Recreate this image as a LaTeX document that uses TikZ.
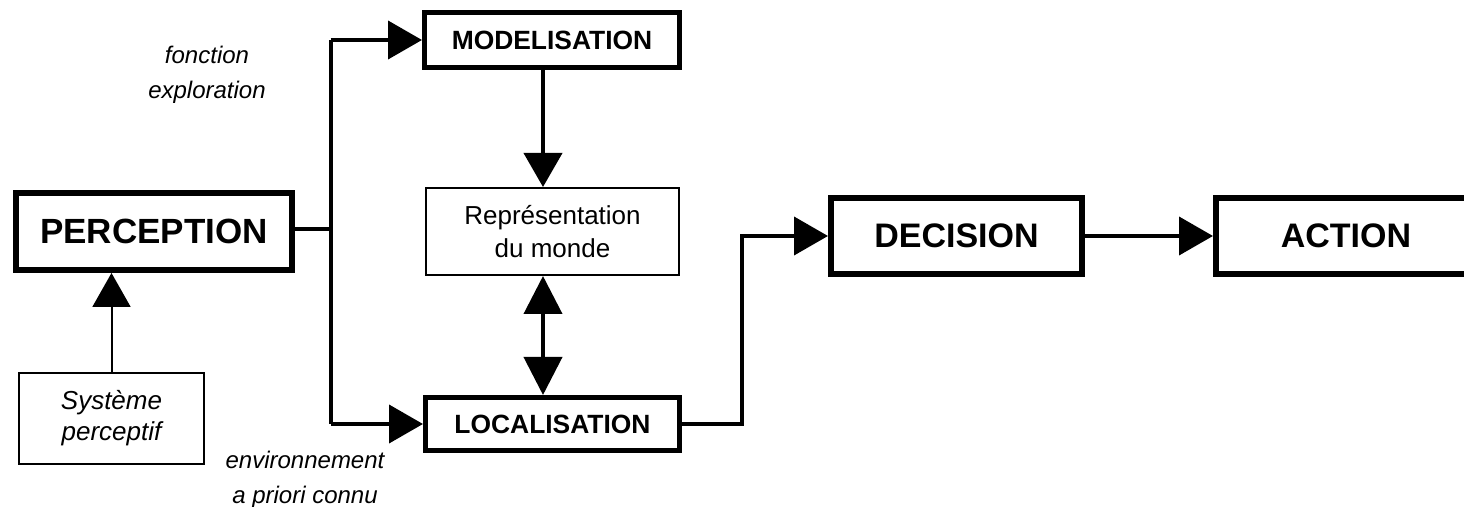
\documentclass[tikz,border=0pt]{standalone}
\usepackage{fontspec}
\setmainfont{Liberation Sans}
\usetikzlibrary{arrows.meta}
\tikzset{
  bigbox/.style={draw, line width=3pt, inner sep=0pt, font=\bfseries},
  thinbox/.style={draw, line width=1pt, inner sep=0pt, align=center},
  conn/.style={line width=2pt},
  tip/.style={-{Triangle[length=17pt,width=19pt]}},
  lbl/.style={font=\itshape\fontsize{12}{17.5}\selectfont, align=center, inner sep=0pt}
}
\begin{document}
\begin{tikzpicture}[x=0.5pt,y=-0.5pt]
\useasboundingbox (0,0) rectangle (1464,507);
\clip (0,0) rectangle (1464,507);
\node[bigbox, minimum width=138pt, minimum height=38.5pt, line width=3pt,
      font=\bfseries\fontsize{17.5}{20}\selectfont] (perc) at (154,231.5) {PERCEPTION};
\node[thinbox, minimum width=92.5pt, minimum height=45.5pt,
      font=\itshape\fontsize{13}{15.5}\selectfont] (sys) at (111.5,418.5) {Système\\perceptif};
\node[bigbox, minimum width=127.5pt, minimum height=27.5pt, line width=2.5pt,
      font=\bfseries\fontsize{13.2}{16}\selectfont] (modl) at (552,40) {MODELISATION};
\node[thinbox, minimum width=126.5pt, minimum height=43.5pt,
      font=\fontsize{13}{16.5}\selectfont] (rep) at (552.5,231.5) {Représentation\\du monde};
\node[bigbox, minimum width=127pt, minimum height=26.5pt, line width=2.5pt,
      font=\bfseries\fontsize{13.2}{16}\selectfont] (loc) at (552.5,424) {LOCALISATION};
\node[bigbox, minimum width=125.5pt, minimum height=38pt,
      font=\bfseries\fontsize{17}{20}\selectfont] (dec) at (956.5,236) {DECISION};
\node[bigbox, minimum width=130pt, minimum height=38pt,
      font=\bfseries\fontsize{17}{20}\selectfont] (act) at (1346,236) {ACTION};
\node[lbl] (lexp) at (207,75) {fonction\\exploration};
\node[lbl] (lenv) at (305,480) {environnement\\a priori connu};
\coordinate (trunk) at (330.5,0);
\coordinate (vx) at (543,0);
\coordinate (jog) at (742,0);
% connectors
\draw[conn, line width=1pt, tip] (sys.north) -- (sys.north |- perc.south);
\draw[conn] (perc.east |- 0,229) -- (trunk |- 0,229);
\draw[conn, tip] (trunk |- modl.west) -- (modl.west);
\draw[conn, tip] (trunk |- loc.west) -- (loc.west);
\draw[conn] (trunk |- modl.west) -- (trunk |- loc.west);
\draw[conn, tip] (modl.south -| vx) -- (rep.north -| vx);
\draw[conn, {Triangle[length=19pt,width=19pt]}-{Triangle[length=19pt,width=19pt]}] (rep.south -| vx) -- (loc.north -| vx);
\draw[conn, tip] (loc.east) -- (jog |- loc.east) -- (jog |- dec.west) -- (dec.west);
\draw[conn, tip] (dec.east) -- (act.west);
\end{tikzpicture}
\end{document}
